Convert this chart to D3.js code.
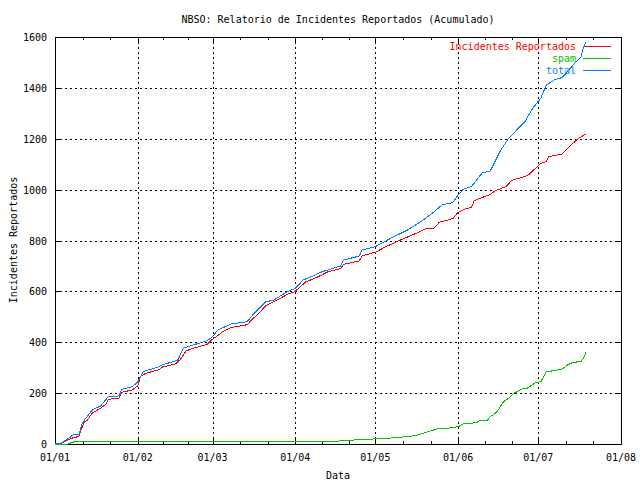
<!DOCTYPE html>
<html>
<head>
<meta charset="utf-8">
<script src="https://cdn.jsdelivr.net/npm/d3@7"></script>
<style>
  html, body { margin: 0; padding: 0; background: #fff; }
  text { font-family: "DejaVu Sans Mono", "Liberation Mono", monospace; font-size: 10px; }
</style>
</head>
<body>
<svg id="chart" width="640" height="480"></svg>
<script>
// ---- Data (day offset from 01/01, cumulative values) ----
const title = "NBSO: Relatorio de Incidentes Reportados (Acumulado)";
const xLabel = "Data";
const yLabel = "Incidentes Reportados";
const seriesNames = ["Incidentes Reportados", "spam", "total"];
const yTicks = [0, 200, 400, 600, 800, 1000, 1200, 1400, 1600];

const incDays = [0, 2, 6, 9, 10, 11, 12, 14, 17, 19, 20, 24, 25, 29, 31, 32, 34, 39, 40, 45, 47, 49, 51, 57, 59, 61, 63, 66, 72, 74, 76, 79, 83, 87, 90, 91, 94, 97, 100, 102, 107, 108, 114, 115, 120, 124, 129, 135, 139, 142, 144, 149, 151, 154, 156, 157, 163, 165, 169, 171, 177, 182, 184, 185, 190, 193, 196, 197, 199];
const incVals = [0, 0, 22, 30, 62, 86, 92, 122, 140, 156, 176, 180, 203, 213, 228, 266, 278, 292, 302, 314, 333, 365, 374, 392, 412, 426, 443, 458, 469, 492, 510, 545, 565, 588, 600, 610, 638, 650, 665, 676, 690, 706, 720, 740, 754, 776, 800, 827, 847, 849, 872, 886, 911, 926, 929, 957, 981, 996, 1012, 1036, 1055, 1103, 1110, 1130, 1140, 1173, 1201, 1207, 1219];

const spamDays = [0, 5, 6, 7, 104, 107, 116, 124, 132, 136, 139, 143, 147, 151, 153, 158, 159, 162, 163, 165, 166, 168, 170, 172, 175, 177, 180, 182, 184, 186, 190, 192, 194, 197, 198, 199];
const spamVals = [0, 0, 5, 8, 8, 13, 18, 22, 29, 35, 46, 59, 62, 68, 79, 84, 92, 94, 107, 121, 134, 166, 181, 200, 216, 220, 241, 245, 284, 287, 295, 311, 321, 324, 337, 363];

const totDays = [0, 2, 3, 6, 7, 9, 10, 11, 14, 17, 20, 24, 25, 29, 31, 33, 35, 39, 40, 46, 48, 50, 53, 57, 59, 61, 66, 72, 74, 79, 82, 87, 90, 93, 96, 100, 107, 108, 114, 115, 120, 126, 132, 138, 142, 145, 149, 151, 153, 156, 160, 163, 167, 170, 176, 179, 182, 184, 187, 190, 192, 194, 197, 198, 199];
const totVals = [0, 3, 8, 29, 39, 39, 75, 94, 134, 149, 186, 189, 215, 225, 245, 284, 291, 304, 310, 330, 376, 383, 393, 406, 422, 448, 472, 481, 507, 559, 566, 599, 612, 645, 658, 677, 700, 723, 739, 763, 776, 810, 841, 881, 913, 940, 949, 979, 1002, 1012, 1066, 1073, 1156, 1203, 1267, 1321, 1360, 1411, 1431, 1441, 1464, 1490, 1522, 1562, 1582];

// ---- Layout ----
const W = 640, H = 480;
const L = 55, R = 621, T = 37, B = 444;
const colors = ["#ff0000", "#00c000", "#0080ff"];
const start = new Date(2007, 0, 1), end = new Date(2007, 7, 1);

const svg = d3.select("#chart");
svg.append("rect").attr("width", W).attr("height", H).attr("fill", "#fff");

const x = d3.scaleTime().domain([start, end]).range([L, R]);
const y = d3.scaleLinear().domain([0, 1600]).range([B, T]);
const months = d3.timeMonth.range(start, d3.timeDay.offset(end, 1));
const fmt = d3.timeFormat("%d/%m");

const g = svg.append("g").attr("shape-rendering", "crispEdges");

// grid
g.selectAll(".vg").data(months).enter().append("line")
  .attr("x1", d => Math.round(x(d)) + 0.5).attr("x2", d => Math.round(x(d)) + 0.5)
  .attr("y1", T).attr("y2", B)
  .attr("stroke", "#000").attr("stroke-dasharray", "2,3");
g.selectAll(".hg").data(yTicks).enter().append("line")
  .attr("y1", d => Math.round(y(d)) + 0.5).attr("y2", d => Math.round(y(d)) + 0.5)
  .attr("x1", L).attr("x2", R)
  .attr("stroke", "#000").attr("stroke-dasharray", "2,3");

// minor x ticks (3 subdivisions per month), bottom and top
const minor = [];
for (let i = 0; i < months.length - 1; i++) {
  const a = x(months[i]), b = x(months[i + 1]);
  minor.push(a + (b - a) / 3, a + 2 * (b - a) / 3);
}
minor.forEach(px => {
  const xx = Math.round(px) + 0.5;
  g.append("line").attr("x1", xx).attr("x2", xx).attr("y1", B).attr("y2", B - 3).attr("stroke", "#000");
  g.append("line").attr("x1", xx).attr("x2", xx).attr("y1", T).attr("y2", T + 3).attr("stroke", "#000");
});
// major ticks
months.forEach(d => {
  const xx = Math.round(x(d)) + 0.5;
  g.append("line").attr("x1", xx).attr("x2", xx).attr("y1", B).attr("y2", B - 6).attr("stroke", "#000");
  g.append("line").attr("x1", xx).attr("x2", xx).attr("y1", T).attr("y2", T + 6).attr("stroke", "#000");
});
yTicks.forEach(v => {
  const yy = Math.round(y(v)) + 0.5;
  g.append("line").attr("x1", L).attr("x2", L + 6).attr("y1", yy).attr("y2", yy).attr("stroke", "#000");
  g.append("line").attr("x1", R - 6).attr("x2", R).attr("y1", yy).attr("y2", yy).attr("stroke", "#000");
});

// border
g.append("rect").attr("x", L + 0.5).attr("y", T + 0.5).attr("width", R - L).attr("height", B - T)
  .attr("fill", "none").attr("stroke", "#000");

// tick labels
svg.selectAll(".xl").data(months).enter().append("text")
  .attr("x", d => x(d)).attr("y", 461).attr("text-anchor", "middle").text(d => fmt(d));
svg.selectAll(".yl").data(yTicks).enter().append("text")
  .attr("x", 47).attr("y", d => y(d) + 4).attr("text-anchor", "end").text(d => d);

// titles
svg.append("text").attr("x", 338).attr("y", 23).attr("text-anchor", "middle").text(title);
svg.append("text").attr("x", 338).attr("y", 479).attr("text-anchor", "middle").text(xLabel);
svg.append("text").attr("transform", "translate(17,240) rotate(-90)").attr("text-anchor", "middle").text(yLabel);

// legend
const legendY = [46, 58, 70];
seriesNames.forEach((n, i) => {
  svg.append("text").attr("x", 576).attr("y", legendY[i] + 4).attr("text-anchor", "end")
    .attr("fill", colors[i]).text(n);
  svg.append("line").attr("x1", 583).attr("x2", 611)
    .attr("y1", legendY[i] + 0.5).attr("y2", legendY[i] + 0.5)
    .attr("stroke", colors[i]).attr("shape-rendering", "crispEdges");
});

// series
const series = [
  incDays.map((d, i) => ({ d, v: incVals[i] })),
  spamDays.map((d, i) => ({ d, v: spamVals[i] })),
  totDays.map((d, i) => ({ d, v: totVals[i] }))
];
const line = d3.line()
  .x(p => x(d3.timeDay.offset(start, p.d)))
  .y(p => y(p.v));
series.forEach((s, i) => {
  svg.append("path").datum(s).attr("d", line)
    .attr("fill", "none").attr("stroke", colors[i]).attr("stroke-width", 1)
    .attr("shape-rendering", "crispEdges");
});
</script>
</body>
</html>
